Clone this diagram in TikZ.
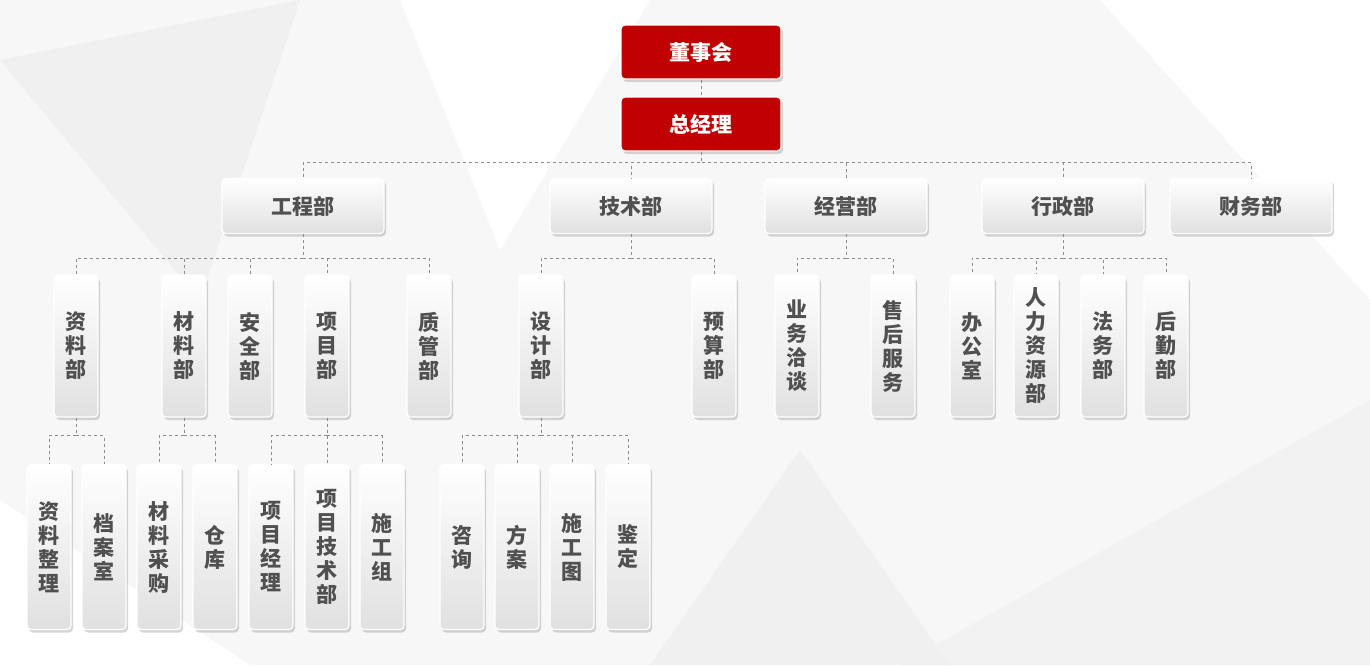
\documentclass[tikz,border=0pt]{standalone}
\usepackage{fontspec}
\setmainfont{Noto Sans CJK SC}
\usetikzlibrary{shadows}
\definecolor{redbox}{HTML}{C00000}
\definecolor{txt}{HTML}{505050}
\tikzset{
  base/.style={rounded corners=4pt, draw=white, line width=1.2pt, inner sep=0pt, align=center, font=\bfseries\fontsize{21}{24}\selectfont,
    drop shadow={shadow xshift=2pt, shadow yshift=-3pt, fill=black!45, opacity=.35}},
  redb/.style={base, fill=redbox, text=white, minimum width=160, minimum height=54},
  hbox/.style={base, top color=white, bottom color=black!12, text=txt, minimum width=162, minimum height=55},
  vbox/.style={base, top color=white, bottom color=black!12, text=txt, minimum width=44},
  conn/.style={draw=black!45, dashed, line width=0.8pt}
}
\begin{document}
\begin{tikzpicture}[x=1pt,y=-1pt]
\fill[black!3] (0,0) rectangle (1370,665);
\fill[black!6] (0,60) -- (300,0) -- (200,300) -- cycle;
\fill[white] (400,0) -- (650,0) -- (500,250) -- cycle;
\fill[black!5] (900,665) -- (1370,400) -- (1370,665) -- cycle;
\fill[white] (1100,0) -- (1370,0) -- (1370,300) -- cycle;
\fill[black!6] (650,665) -- (800,450) -- (950,665) -- cycle;
\fill[white] (0,500) -- (250,665) -- (0,665) -- cycle;
\useasboundingbox (0,0) rectangle (1370,665);

\node[redb] (dsh) at (701,52) {董事会};
\node[redb] (zjl) at (701,124) {总经理};

\node[hbox] (gc) at (303,206) {工程部};
\node[hbox] (js) at (631,206) {技术部};
\node[hbox] (jy) at (846,206) {经营部};
\node[hbox] (xz) at (1063,206) {行政部};
\node[hbox] (cw) at (1251,206) {财务部};

\foreach \n/\x/\t in {zlb/76/资\\料\\部, clb/184/材\\料\\部, aqb/250/安\\全\\部, xmb/327/项\\目\\部, zgb/429/质\\管\\部,
  sjb/541/设\\计\\部, ysb/714/预\\算\\部, ywqt/797/业\\务\\洽\\谈, shfw/893/售\\后\\服\\务,
  bgs/972/办\\公\\室, rlzy/1036/人\\力\\资\\源\\部, fwb/1103/法\\务\\部, hqb/1166/后\\勤\\部}
  \node[vbox, minimum height=142] (\n) at (\x,346) {\t};

\foreach \n/\x/\t in {zlzl/49/资\\料\\整\\理, das/104/档\\案\\室, clcg/159/材\\料\\采\\购, ck/215/仓\\库,
  xmjl/271/项\\目\\经\\理, xmjs/327/项\\目\\技\\术\\部, sgz/382/施\\工\\组,
  zx/462/咨\\询, fa/517/方\\案, sgt/572/施\\工\\图, jd/628/鉴\\定}
  \node[vbox, minimum height=165] (\n) at (\x,547) {\t};

\draw[conn] (dsh) -- (zjl);
\foreach \c in {gc,js,jy,xz,cw} \draw[conn] (zjl.south) -- ++(0,11) -| (\c.north);
\foreach \c in {zlb,clb,aqb,xmb,zgb} \draw[conn] (gc.south) -- ++(0,24) -| (\c.north);
\foreach \c in {sjb,ysb} \draw[conn] (js.south) -- ++(0,24) -| (\c.north);
\foreach \c in {ywqt,shfw} \draw[conn] (jy.south) -- ++(0,24) -| (\c.north);
\foreach \c in {bgs,rlzy,fwb,hqb} \draw[conn] (xz.south) -- ++(0,24) -| (\c.north);
\foreach \c in {zlzl,das} \draw[conn] (zlb.south) -- ++(0,18) -| (\c.north);
\foreach \c in {clcg,ck} \draw[conn] (clb.south) -- ++(0,18) -| (\c.north);
\foreach \c in {xmjl,xmjs,sgz} \draw[conn] (xmb.south) -- ++(0,18) -| (\c.north);
\foreach \c in {zx,fa,sgt,jd} \draw[conn] (sjb.south) -- ++(0,18) -| (\c.north);
\end{tikzpicture}
\end{document}
